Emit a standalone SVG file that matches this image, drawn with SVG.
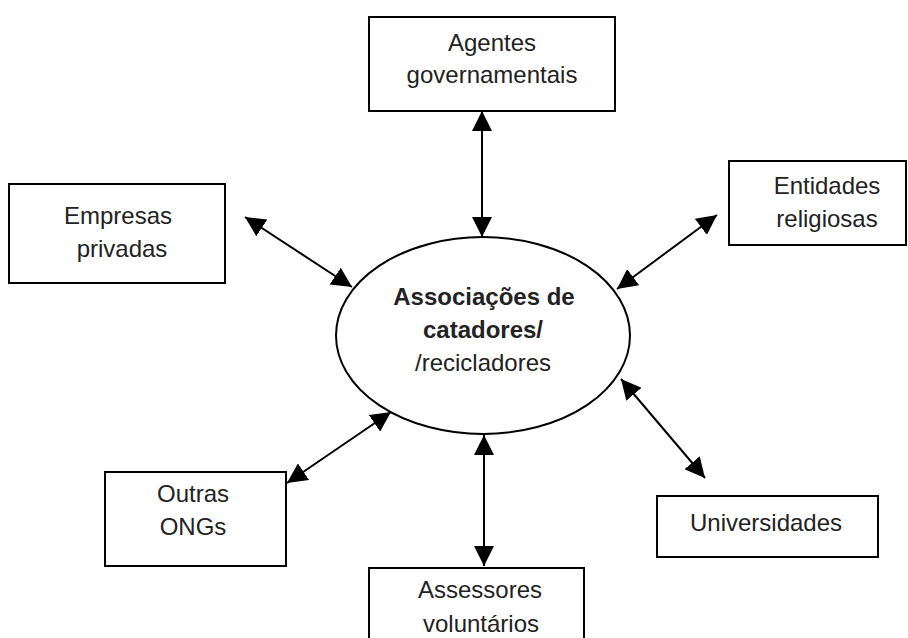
<svg xmlns="http://www.w3.org/2000/svg" width="908" height="638" viewBox="0 0 908 638">
<style>
.box{fill:#fff;stroke:#000;stroke-width:2}
.t{font-family:"Liberation Sans",Arial,sans-serif;font-size:24px;fill:#222;text-anchor:middle}
.b{font-weight:bold}
.c{stroke:#000;stroke-width:2;fill:none;marker-start:url(#ah);marker-end:url(#ah)}
</style>
<defs>
<marker id="ah" viewBox="0 0 20 20" refX="20" refY="10" markerWidth="20" markerHeight="20" markerUnits="userSpaceOnUse" orient="auto-start-reverse">
<path d="M0,0 L20,10 L0,20 z" fill="#000"/>
</marker>
</defs>
<rect width="908" height="638" fill="#fff"/>
<g id="connectors">
<line class="c" x1="482" y1="111" x2="482" y2="237"/>
<line class="c" x1="484" y1="435" x2="484" y2="566"/>
<line class="c" x1="245" y1="217" x2="352" y2="287"/>
<line class="c" x1="717" y1="215" x2="617" y2="289"/>
<line class="c" x1="287" y1="483" x2="391" y2="412"/>
<line class="c" x1="621" y1="379" x2="705" y2="478"/>
</g>
<g id="center">
<ellipse cx="483" cy="335.5" rx="147" ry="98.5" fill="#fff" stroke="#000" stroke-width="2"/>
<text class="t b" x="484" y="305">Associações  de</text>
<text class="t b" x="483" y="338">catadores/</text>
<text class="t" x="483" y="371">/recicladores</text>
</g>
<g id="agentes">
<rect class="box" x="369" y="17" width="246" height="94"/>
<text class="t" x="492" y="51">Agentes</text>
<text class="t" x="492" y="83">governamentais</text>
</g>
<g id="empresas">
<rect class="box" x="9" y="184" width="216" height="99"/>
<text class="t" x="118" y="224">Empresas</text>
<text class="t" x="122" y="257">privadas</text>
</g>
<g id="entidades">
<rect class="box" x="729" y="161" width="177" height="84"/>
<text class="t" x="827" y="194">Entidades</text>
<text class="t" x="827" y="227">religiosas</text>
</g>
<g id="outras">
<rect class="box" x="105" y="472" width="181" height="94"/>
<text class="t" x="193" y="502">Outras</text>
<text class="t" x="193" y="535">ONGs</text>
</g>
<g id="assessores">
<rect class="box" x="369" y="568" width="215" height="80"/>
<text class="t" x="480" y="598">Assessores</text>
<text class="t" x="481" y="632">voluntários</text>
</g>
<g id="universidades">
<rect class="box" x="657" y="496" width="221" height="61"/>
<text class="t" x="766" y="531">Universidades</text>
</g>
</svg>
